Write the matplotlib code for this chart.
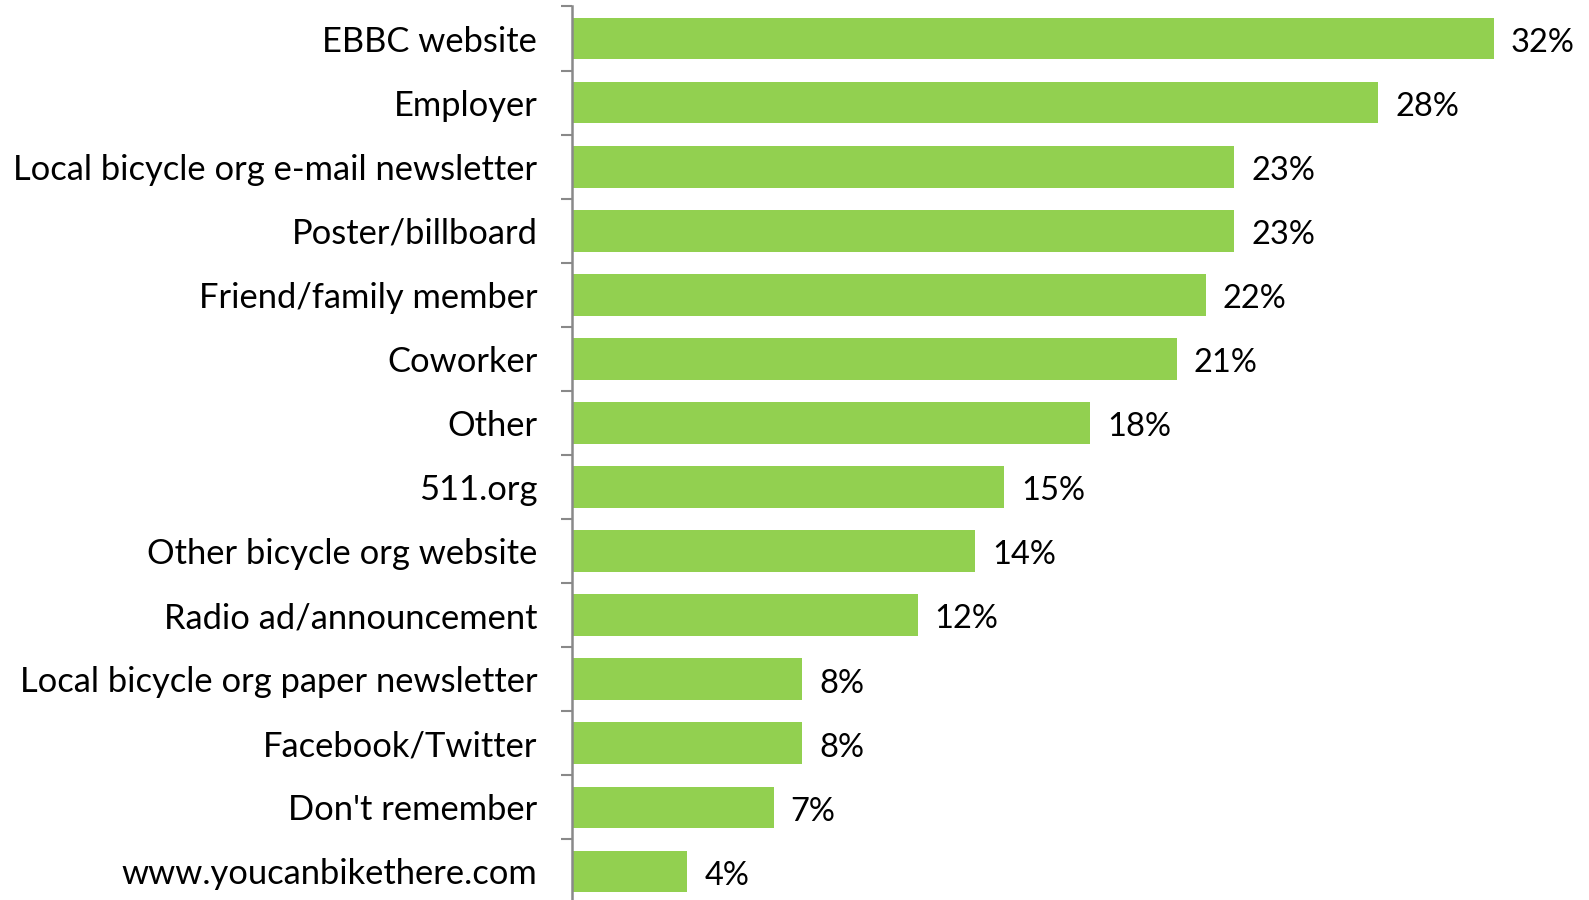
import matplotlib
matplotlib.use("Agg")
import matplotlib.pyplot as plt
from matplotlib.ticker import FixedLocator

categories = [
    "EBBC website",
    "Employer",
    "Local bicycle org e-mail newsletter",
    "Poster/billboard",
    "Friend/family member",
    "Coworker",
    "Other",
    "511.org",
    "Other bicycle org website",
    "Radio ad/announcement",
    "Local bicycle org paper newsletter",
    "Facebook/Twitter",
    "Don't remember",
    "www.youcanbikethere.com",
]
values = [32, 28, 23, 23, 22, 21, 18, 15, 14, 12, 8, 8, 7, 4]

W, H = 1589, 900
fig = plt.figure(figsize=(W / 100, H / 100), dpi=100)

# axes placed in pixel coordinates; 1% of the value axis spans ~28.8 px
x0, y_top, y_bot = 572, 6.5, 903.5
px_per_pct = 28.8
xmax = (W - x0) / px_per_pct
ax = fig.add_axes([x0 / W, 1 - y_bot / H, (W - x0) / W, (y_bot - y_top) / H])

n = len(categories)
ypos = list(range(n))
ax.barh(ypos, values, height=0.65, color="#92D050", zorder=2)
ax.set_ylim(n - 0.5, -0.5)
ax.set_xlim(0, xmax)

font = "Lato"
fs = 24.8
for y, v in zip(ypos, values):
    ax.text(v + 17 / px_per_pct, y + 0.02, f"{v}%", va="center_baseline", ha="left",
            fontsize=23.5, family=font, color="black")

ax.set_yticks(ypos)
ax.set_yticklabels(categories, fontsize=fs, family=font)
for lbl in ax.get_yticklabels():
    lbl.set_verticalalignment("center_baseline")
ax.tick_params(axis="y", which="major", length=0, pad=25)
ax.yaxis.set_minor_locator(FixedLocator([i - 0.5 for i in range(n + 1)]))
ax.tick_params(axis="y", which="minor", length=8, width=1.5, color="#898989",
               direction="out")
ax.set_xticks([])

for s in ["top", "right", "bottom"]:
    ax.spines[s].set_visible(False)
ax.spines["left"].set_color("#898989")
ax.spines["left"].set_linewidth(1.8)

fig.savefig("out.png", dpi=100)
